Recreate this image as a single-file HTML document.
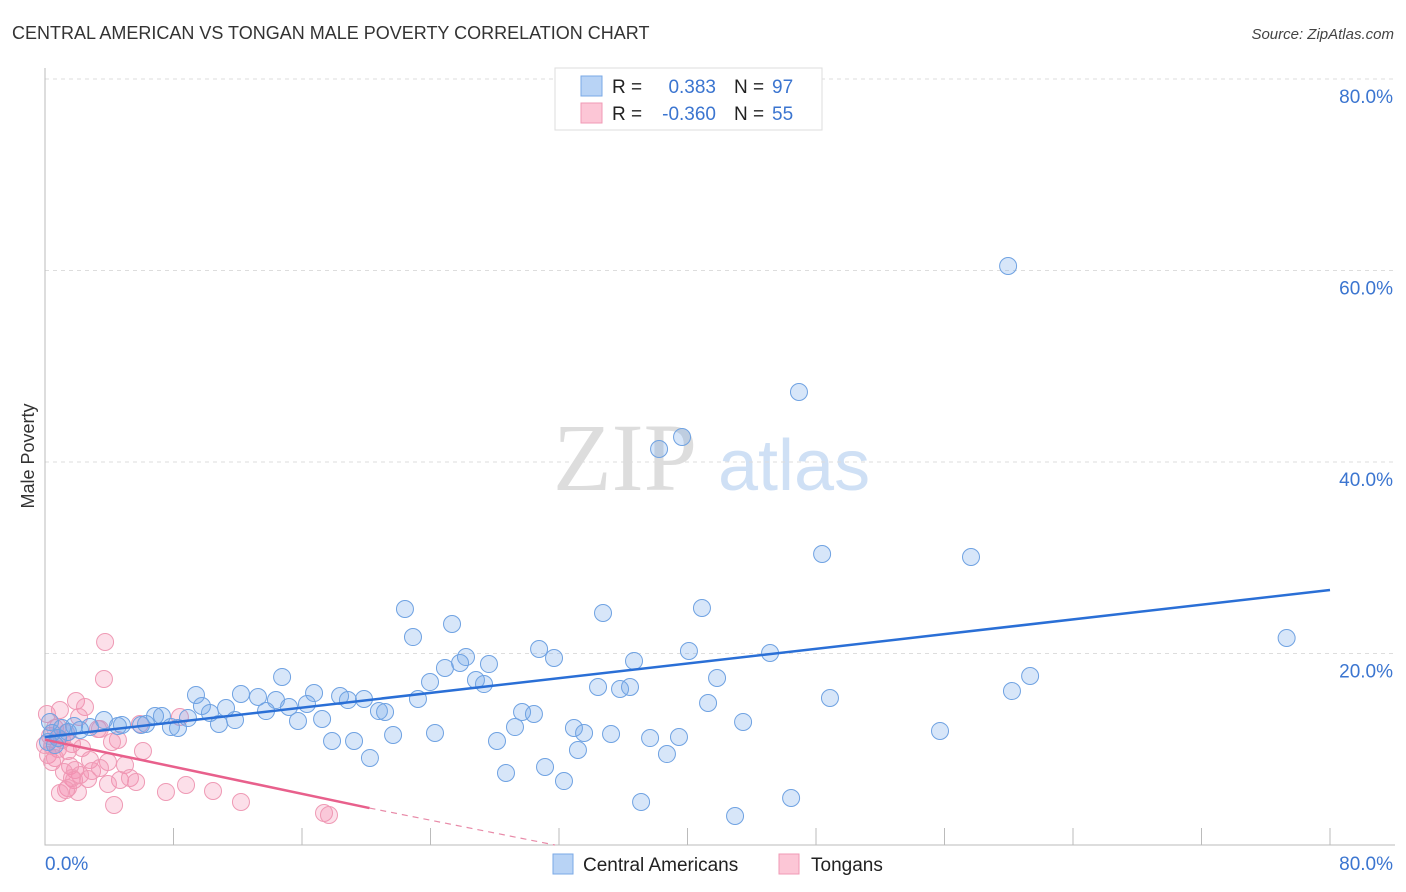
<!DOCTYPE html>
<html><head><meta charset="utf-8"><style>
body{margin:0;background:#fff;font-family:"Liberation Sans",sans-serif;}
svg{display:block}
</style></head><body>
<svg id="chart" width="1406" height="892" xmlns="http://www.w3.org/2000/svg">
<text x="12" y="39" font-size="18" fill="#333">CENTRAL AMERICAN VS TONGAN MALE POVERTY CORRELATION CHART</text>
<text x="1394" y="39" font-size="15" fill="#444" font-style="italic" text-anchor="end">Source: ZipAtlas.com</text>
<text transform="translate(34,456) rotate(-90)" font-size="18" fill="#333" text-anchor="middle">Male Poverty</text>
<g>
<text x="553" y="490" font-size="96" font-family="Liberation Serif,serif" fill="#ddd">ZIP</text>
<text x="718" y="490" font-size="72" fill="#cfe0f5">atlas</text>
</g>
<g id="grid"></g>
<g id="axes"></g>
<g id="marks"></g>
<g>
<rect x="555" y="68" width="267" height="62" fill="#fff" stroke="#ddd"/>
<rect x="581" y="76" width="21" height="20" fill="#b8d3f5" stroke="#7aa8e6"/>
<rect x="581" y="103" width="21" height="20" fill="#fcc6d6" stroke="#f09ab5"/>
<text x="612" y="93" font-size="19" fill="#222">R =</text>
<text x="716" y="93" font-size="19" fill="#3b75d0" text-anchor="end">0.383</text>
<text x="734" y="93" font-size="19" fill="#222">N =</text>
<text x="772" y="93" font-size="19" fill="#3b75d0">97</text>
<text x="612" y="120" font-size="19" fill="#222">R =</text>
<text x="716" y="120" font-size="19" fill="#3b75d0" text-anchor="end">-0.360</text>
<text x="734" y="120" font-size="19" fill="#222">N =</text>
<text x="772" y="120" font-size="19" fill="#3b75d0">55</text>
</g>
<g>
<rect x="553" y="854" width="20" height="20" fill="#b8d3f5" stroke="#7aa8e6"/>
<text x="583" y="871" font-size="19" fill="#222">Central Americans</text>
<rect x="779" y="854" width="20" height="20" fill="#fcc6d6" stroke="#f09ab5"/>
<text x="811" y="871" font-size="19" fill="#222">Tongans</text>
</g>
</svg>
<script>
const yTicks=[20,40,60,80];
const yTickLabels=["20.0%","40.0%","60.0%","80.0%"];
const xTicks=[0,8,16,24,32,40,48,56,64,72,80];
const blueX=[59.96,46.94,39.66,38.23,48.38,57.65,22.41,34.74,40.9,77.3,22.91,25.34,26.21,27.64,25.84,30.76,31.69,36.67,40.09,45.14,24.9,23.97,26.83,27.33,34.43,35.8,36.42,41.84,61.33,60.2,48.87,41.28,23.22,14.76,9.4,12.2,13.26,14.38,16.75,18.37,19.86,18.86,9.77,11.27,15.19,16.31,13.76,20.79,21.17,29.7,30.44,10.27,6.85,7.28,8.9,11.83,15.75,17.25,10.83,7.84,8.28,43.46,32.93,33.56,35.24,29.26,24.28,21.67,17.87,19.24,28.14,33.18,37.67,39.47,38.72,55.72,20.23,31.13,28.7,32.31,37.11,42.96,46.45,3.67,4.79,4.54,2.8,1.81,1.06,1.43,0.31,0.44,0.81,2.18,5.98,6.29,0.19,0.62];
const blueY=[60.47,47.31,42.61,41.36,30.39,30.08,24.65,24.23,24.75,21.62,21.72,23.08,19.63,18.9,19.01,20.47,19.53,19.22,20.26,20.05,18.49,17.02,17.23,16.81,16.5,16.29,16.5,17.44,17.65,16.08,15.35,14.83,15.25,17.55,15.67,15.77,15.46,15.14,15.87,15.56,15.25,15.14,14.52,14.31,14.41,14.73,13.99,13.99,13.89,13.89,13.68,13.79,13.47,13.47,13.26,13.05,12.95,13.16,12.64,12.32,12.22,12.85,12.22,11.7,11.59,12.32,11.7,11.49,10.86,10.86,10.86,9.92,11.17,11.28,9.5,11.91,9.09,8.15,7.52,6.68,4.49,3.03,4.91,13.05,12.53,12.43,12.32,12.43,12.22,11.8,12.85,11.7,11.17,12.01,12.53,12.64,10.76,10.44];
const pinkX=[3.74,3.67,1.93,2.49,0.12,0.93,8.4,2.12,5.91,3.3,1.31,3.42,0.31,1.06,1.68,0.81,2.3,1.43,0.19,0.62,0.44,1.56,2.8,3.92,4.98,6.1,4.54,1.87,1.18,2.93,2.18,3.42,1.81,1.68,2.68,4.67,5.29,5.67,3.92,1.43,2.05,1.31,0.93,8.78,7.53,10.46,4.3,12.2,17.37,17.68,0,0.62,4.17,0.44,0.81];
const pinkY=[21.2,17.34,15.04,14.41,13.68,14.1,13.37,13.37,12.64,12.11,11.7,12.11,11.38,10.97,10.55,10.03,10.13,9.82,9.4,9.09,8.67,8.25,8.88,8.67,8.36,9.82,10.97,7.83,7.62,7.73,7.31,8.04,6.79,7.0,6.89,6.79,7.0,6.58,6.37,5.95,5.54,5.74,5.43,6.27,5.54,5.64,4.18,4.49,3.34,3.13,10.44,12.22,10.76,10.34,12.32];
const blueTrend=[[0,11.28],[80,26.63]];
const pinkTrend=[[0,11.0],[20.2,3.86]];
const pinkTrendDash=[[20.2,3.86],[31.75,0]];
const NS="http://www.w3.org/2000/svg";
const X0=45,X1=1330,Y0=845,Y80=79;
const sx=v=>X0+v*(X1-X0)/80;
const sy=v=>Y0-v*(Y0-Y80)/80;
function mk(tag,attrs,parent){const e=document.createElementNS(NS,tag);for(const k in attrs)e.setAttribute(k,attrs[k]);parent.appendChild(e);return e;}
const grid=document.getElementById('grid'),axes=document.getElementById('axes'),marks=document.getElementById('marks');
yTicks.forEach((t,i)=>{
 const l=mk('line',{x1:X0,x2:1395,y1:sy(t),y2:sy(t),stroke:'#ddd','stroke-dasharray':'4,4'},grid);
 
 
 const tx=mk('text',{x:1393,y:sy(t)+24,'font-size':19,fill:'#3b75d0','text-anchor':'end'},axes);
 tx.textContent=yTickLabels[i];
 
 
});
const ax=mk('path',{d:`M${X0},68V${Y0}H1395`,stroke:'#bbb',fill:'none'},axes);


xTicks.forEach(t=>{
 const l=mk('line',{x1:sx(t),x2:sx(t),y1:Y0-17,y2:Y0,stroke:'#bbb'},axes);
 
 
});
const xl0=mk('text',{x:45,y:870,'font-size':19,fill:'#3b75d0'},axes);xl0.textContent='0.0%';


const xl1=mk('text',{x:1393,y:870,'font-size':19,fill:'#3b75d0','text-anchor':'end'},axes);xl1.textContent='80.0%';


function dots(xs,ys,fill,stroke,name){xs.forEach((v,i)=>{
 const c=mk('circle',{cx:sx(v),cy:sy(ys[i]),r:8.5,fill:fill,stroke:stroke,'stroke-width':1},marks);
 
 
});}
dots(pinkX,pinkY,'rgba(245,140,175,0.28)','#ef9ab5','tongan-point');
dots(blueX,blueY,'rgba(110,165,235,0.28)','#6fa2e2','central-american-point');
function line(p,stroke,w,dash,name){
 const l=mk('line',{x1:sx(p[0][0]),y1:sy(p[0][1]),x2:sx(p[1][0]),y2:sy(p[1][1]),stroke:stroke,'stroke-width':w},marks);
 if(dash)l.setAttribute('stroke-dasharray',dash);
 
 
}
line(blueTrend,'#2a6fd6',2.5,null,'central-american-trendline');
line(pinkTrend,'#e8608c',2.5,null,'tongan-trendline');
line(pinkTrendDash,'#e88aa8',1.2,'6,5','tongan-trendline-extension');
</script>
</body></html>
